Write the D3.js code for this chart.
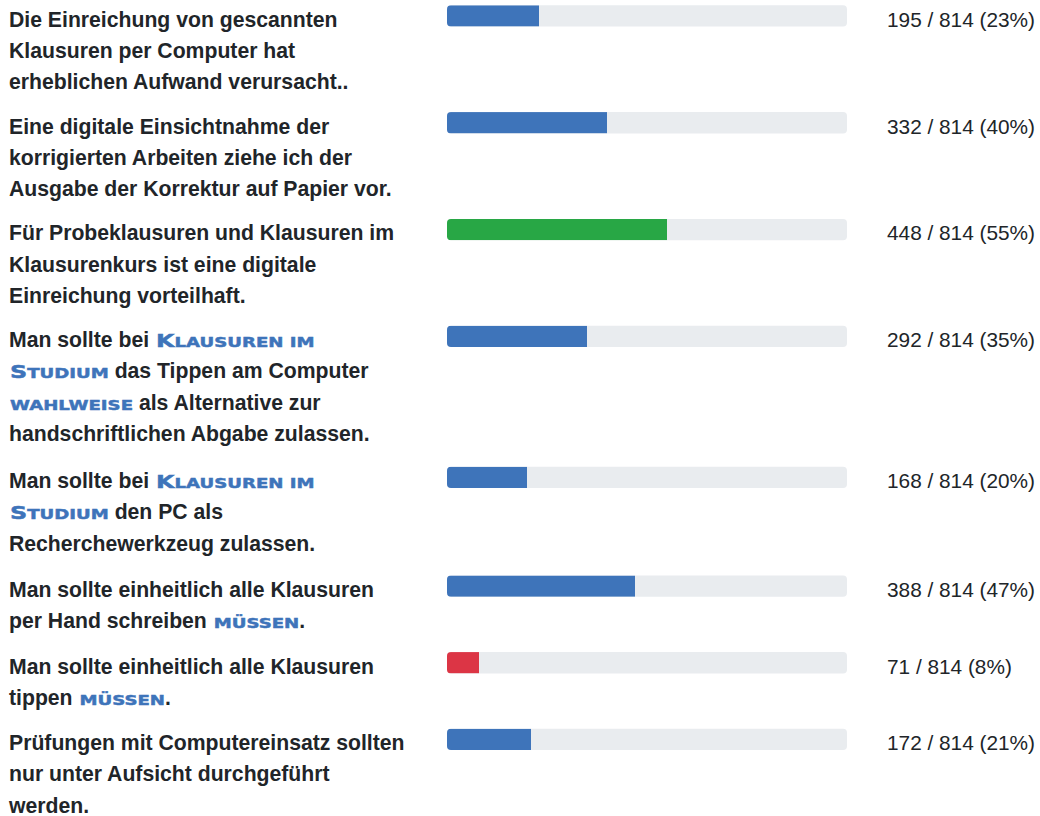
<!DOCTYPE html>
<html>
<head>
<meta charset="utf-8">
<script src="https://cdn.jsdelivr.net/npm/d3@7"></script>
<style>
  body { margin: 0; background: #fff; }
  svg { display: block; }
  text { white-space: pre; }
</style>
</head>
<body>
<div id="chart"></div>
<script>
// Survey statements, one array of wrapped lines each; {…} marks emphasised small-caps words
const statements = [
  ["Die Einreichung von gescannten",
   "Klausuren per Computer hat",
   "erheblichen Aufwand verursacht.."],
  ["Eine digitale Einsichtnahme der",
   "korrigierten Arbeiten ziehe ich der",
   "Ausgabe der Korrektur auf Papier vor."],
  ["Für Probeklausuren und Klausuren im",
   "Klausurenkurs ist eine digitale",
   "Einreichung vorteilhaft."],
  ["Man sollte bei {Klausuren im}",
   "{Studium} das Tippen am Computer",
   "{wahlweise} als Alternative zur",
   "handschriftlichen Abgabe zulassen."],
  ["Man sollte bei {Klausuren im}",
   "{Studium} den PC als",
   "Recherchewerkzeug zulassen."],
  ["Man sollte einheitlich alle Klausuren",
   "per Hand schreiben {müssen}."],
  ["Man sollte einheitlich alle Klausuren",
   "tippen {müssen}."],
  ["Prüfungen mit Computereinsatz sollten",
   "nur unter Aufsicht durchgeführt",
   "werden."]
];

// Number of respondents agreeing, out of the total
const counts = [195, 332, 448, 292, 168, 388, 71, 172];
const total = 814;
// Shown percentages (whole numbers)
const percents = [23, 40, 55, 35, 20, 47, 8, 21];

const W = 1040, H = 816;
const FONT = "'Liberation Sans', Arial, Helvetica, sans-serif";
const EMPH_FONT = "'DejaVu Sans', Verdana, sans-serif";
const TEXT = "#212529";
const BLUE = "#3e74ba";
const GREEN = "#28a745";
const RED = "#dc3545";
const TRACK = "#e9ecef";

const LABEL_X = 9;
const LABEL_SIZE = 21.2;
const VALUE_SIZE = 20.8;
const LINE_H = 31.2;
const ROW_GAP = 13.2;
const CAP_SIZE = 17.4;     // emphasised words: capital size
const SMALL_RATIO = 0.76;  // small-caps letter size relative to capitals
const SX = 1.37;           // horizontal stretch of the emphasised lettering
const BAR_H = 21.3;

const svg = d3.select("#chart").append("svg")
  .attr("width", W).attr("height", H)
  .attr("font-family", FONT);

svg.append("rect").attr("width", W).attr("height", H).attr("fill", "#fff");

const x = d3.scaleLinear().domain([0, 100]).range([447, 847]);

const maxCount = d3.max(counts), minCount = d3.min(counts);
const barColor = c => c === maxCount ? GREEN : (c === minCount ? RED : BLUE);

// vertical layout: each row grows with its number of wrapped lines
const rowTops = [];
let cursorY = 5.3;
statements.forEach(lines => {
  rowTops.push(cursorY);
  const emphLines = lines.filter(l => l.includes("{")).length;
  cursorY += lines.length * LINE_H + ROW_GAP + emphLines;
});

function drawLine(g, line, y) {
  const parts = line.split(/(\{[^}]*\})/).filter(s => s.length);
  let cx = LABEL_X;
  parts.forEach(p => {
    if (p.startsWith("{")) {
      const word = p.slice(1, -1);
      // group characters into runs of capitals / small letters
      const runs = [];
      for (const ch of word) {
        const big = ch !== ch.toLowerCase();
        if (runs.length && runs[runs.length - 1].big === big) runs[runs.length - 1].s += ch;
        else runs.push({ big, s: ch });
      }
      const sg = g.append("g").attr("transform", `translate(${cx + 1},${y}) scale(${SX},1)`);
      const t = sg.append("text")
        .attr("font-family", EMPH_FONT)
        .attr("fill", BLUE)
        .attr("stroke", BLUE)
        .attr("stroke-width", 0.45)
        .attr("font-weight", 700)
        .attr("font-size", CAP_SIZE);
      t.selectAll("tspan").data(runs).join("tspan")
        .attr("font-size", d => d.big ? CAP_SIZE : CAP_SIZE * SMALL_RATIO)
        .text(d => d.s.toUpperCase());
      cx += t.node().getComputedTextLength() * SX + 1;
    } else {
      const t = g.append("text")
        .attr("x", cx).attr("y", y)
        .attr("fill", TEXT)
        .attr("font-weight", 700)
        .attr("font-size", LABEL_SIZE)
        .text(p);
      cx += t.node().getComputedTextLength();
    }
  });
}

const rows = svg.selectAll("g.row").data(statements).join("g").attr("class", "row");

rows.each(function (lines, i) {
  const g = d3.select(this);
  const y0 = rowTops[i];
  lines.forEach((line, k) => drawLine(g, line, y0 + 21.5 + k * LINE_H));

  const clipId = "clip" + i;
  g.append("clipPath").attr("id", clipId)
    .append("rect")
    .attr("x", x(0)).attr("y", y0)
    .attr("width", x(100) - x(0)).attr("height", BAR_H)
    .attr("rx", 4);

  g.append("rect")
    .attr("x", x(0)).attr("y", y0)
    .attr("width", x(100) - x(0)).attr("height", BAR_H)
    .attr("rx", 4)
    .attr("fill", TRACK);

  g.append("rect")
    .attr("clip-path", `url(#${clipId})`)
    .attr("x", x(0)).attr("y", y0)
    .attr("width", x(percents[i]) - x(0)).attr("height", BAR_H)
    .attr("fill", barColor(counts[i]));

  g.append("text")
    .attr("x", 887).attr("y", y0 + 21.5)
    .attr("fill", TEXT)
    .attr("font-size", VALUE_SIZE)
    .text(`${counts[i]} / ${total} (${percents[i]}%)`);
});
</script>
</body>
</html>
